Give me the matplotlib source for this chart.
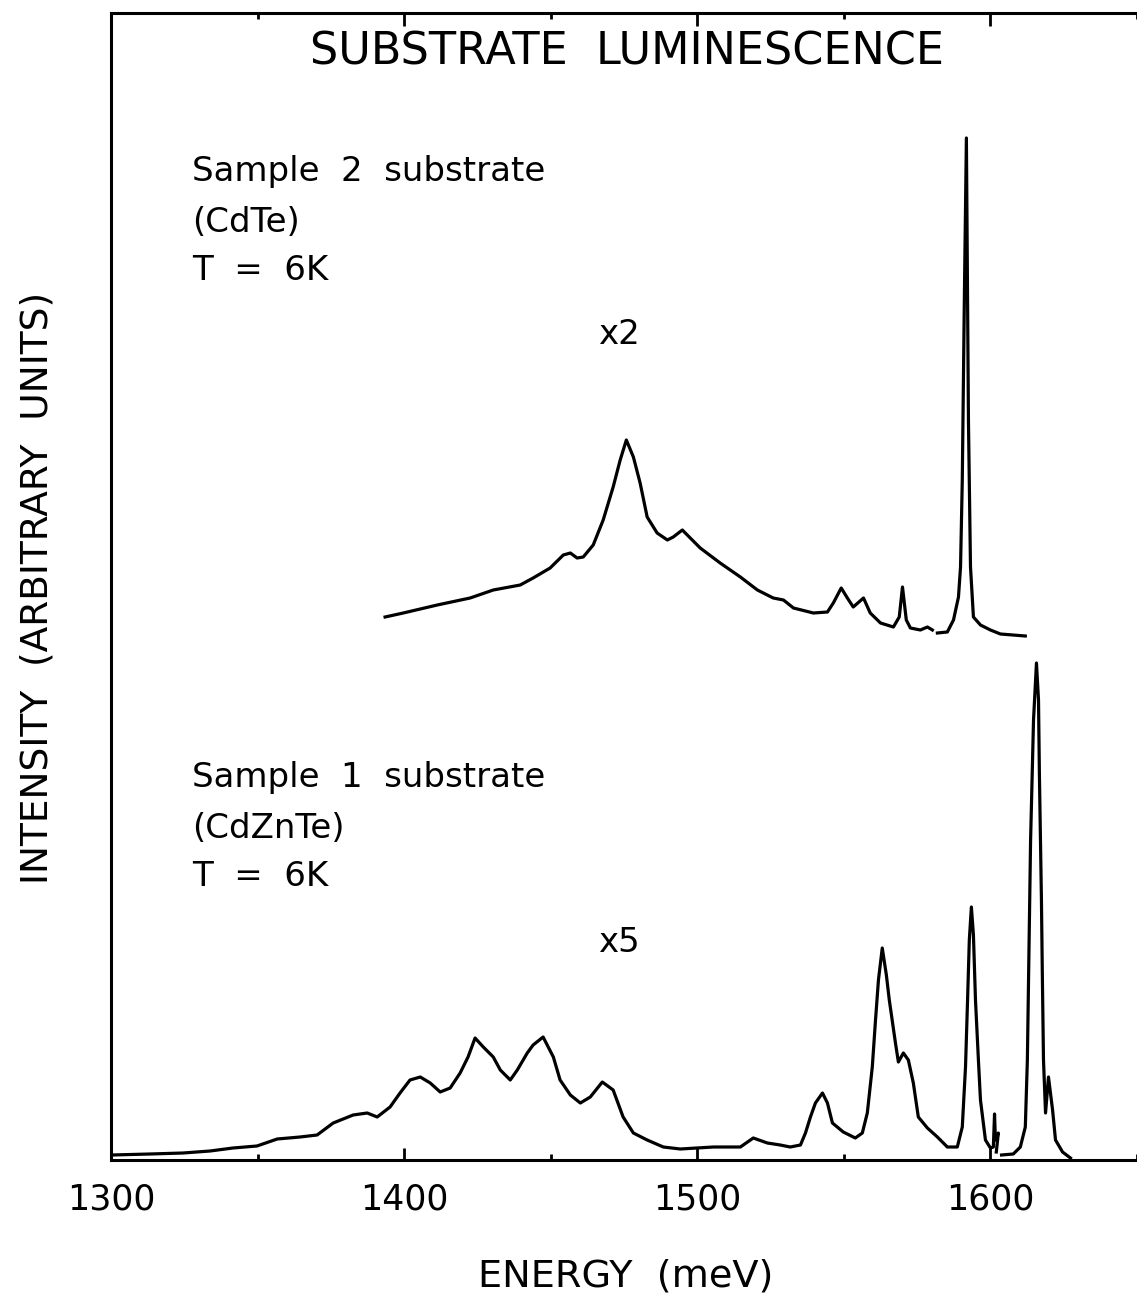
import matplotlib
matplotlib.use("Agg")
import matplotlib.pyplot as plt
from matplotlib.ticker import MultipleLocator

# ---- Data ----
# Sample 2 substrate (CdTe), x2 -- two segments (gap near 1581 meV)
cdte_E1 = [1393.5, 1399.7, 1411.3, 1422.5, 1430.4, 1439.6, 1444.0, 1449.8, 1454.3, 1456.7,
           1459.0, 1461.1, 1464.5, 1467.9, 1471.3, 1473.7, 1475.8, 1478.2, 1480.5, 1482.9,
           1486.3, 1489.8, 1491.8, 1494.9, 1497.6, 1501.0, 1507.8, 1514.7, 1520.5, 1525.9,
           1529.4, 1532.8, 1539.6, 1544.4, 1546.4, 1549.1, 1551.2, 1553.2, 1556.7, 1559.0,
           1562.5, 1566.9, 1568.9, 1570.0, 1571.3, 1572.7, 1576.1, 1578.5, 1580.2]
cdte_I1 = [543, 547, 555, 562, 570, 575, 582, 592, 605, 607,
           602, 603, 615, 640, 673, 700, 720, 703, 677, 643,
           627, 620, 623, 630, 622, 612, 597, 583, 570, 562,
           560, 552, 547, 548, 557, 572, 562, 553, 562, 547,
           537, 533, 543, 573, 540, 532, 530, 533, 530]
cdte_E2 = [1581.9, 1585.3, 1587.4, 1589.1, 1589.8, 1590.4, 1591.1, 1591.8, 1592.2, 1592.5,
           1593.2, 1594.2, 1596.6, 1600.0, 1603.4, 1611.9]
cdte_I2 = [527, 528, 540, 563, 593, 680, 860, 1022, 860, 740,
           593, 543, 535, 530, 526, 524]

# Sample 1 substrate (CdZnTe), x5 -- two segments (gap near 1603 meV)
czt_E1 = [1300.3, 1313.3, 1324.6, 1333.8, 1341.6, 1349.8, 1356.7, 1364.5, 1370.3, 1375.8,
          1382.6, 1387.4, 1390.8, 1395.2, 1398.6, 1402.0, 1405.5, 1408.9, 1412.3, 1415.7,
          1419.1, 1421.8, 1424.2, 1427.0, 1430.4, 1432.8, 1436.2, 1438.6, 1442.0, 1444.0,
          1447.4, 1450.9, 1453.2, 1456.7, 1460.1, 1463.5, 1467.6, 1471.3, 1474.7, 1478.2,
          1482.9, 1488.4, 1494.2, 1505.5, 1514.7, 1519.1, 1523.9, 1528.3, 1531.7, 1535.2,
          1536.9, 1538.6, 1540.3, 1542.7, 1544.4, 1546.1, 1549.8, 1553.9, 1556.3, 1558.0,
          1559.7, 1560.8, 1561.8, 1563.1, 1564.5, 1565.5, 1567.6, 1568.6, 1570.3, 1572.0,
          1573.7, 1575.4, 1578.5, 1581.9, 1585.3, 1588.7, 1590.4, 1591.5, 1592.2, 1592.8,
          1593.5, 1594.2, 1594.9, 1595.9, 1596.6, 1598.3, 1600.0, 1601.0, 1601.4, 1601.7,
          1602.7, 1602.0]
czt_I1 = [5, 6, 7, 9, 12, 14, 21, 23, 25, 37,
          45, 47, 43, 53, 67, 80, 83, 77, 68, 72,
          87, 103, 122, 113, 103, 90, 80, 90, 107, 115,
          123, 103, 80, 65, 57, 63, 78, 70, 43, 27,
          20, 13, 11, 13, 13, 22, 17, 15, 13, 15,
          27, 43, 57, 67, 57, 37, 28, 22, 27, 47,
          93, 140, 180, 212, 185, 160, 117, 98, 107, 100,
          77, 43, 32, 23, 13, 13, 33, 93, 160, 220,
          253, 225, 160, 100, 60, 20, 12, 13, 46, 20,
          27, 8]
czt_E2 = [1603.8, 1607.8, 1610.2, 1611.9, 1612.6, 1613.7, 1614.7, 1615.7, 1616.4, 1616.7,
          1617.4, 1617.7, 1618.1, 1618.8, 1619.8, 1621.2, 1622.2, 1624.6, 1627.3]
czt_I2 = [5, 6, 13, 33, 100, 320, 440, 497, 460, 387,
          260, 187, 100, 47, 83, 50, 20, 8, 2]

x_major = [1300, 1400, 1500, 1600]
x_tick_labels = ["1300", "1400", "1500", "1600"]

W, H = 1137, 1304
fig = plt.figure(figsize=(W / 100, H / 100), dpi=100)
ax = fig.add_axes([111 / W, 1 - 1160 / H, 1 - 111 / W, (1160 - 13) / H])

lw = 2.3
for E, I in [(cdte_E1, cdte_I1), (cdte_E2, cdte_I2), (czt_E1, czt_I1), (czt_E2, czt_I2)]:
    ax.plot(E, I, color="black", lw=lw, solid_joinstyle="round")

ax.set_xlim(1300, 1650)
ax.set_ylim(0, 1147)
ax.set_xticks(x_major)
ax.set_xticklabels(x_tick_labels)
ax.xaxis.set_minor_locator(MultipleLocator(50))
ax.set_yticks([])
ax.tick_params(axis="x", which="major", direction="in", length=9, width=2,
               top=True, labelsize=25, pad=16)
ax.tick_params(axis="x", which="minor", direction="in", length=4, width=2, top=True)
for s in ["left", "bottom", "top"]:
    ax.spines[s].set_linewidth(2.2)
ax.spines["right"].set_visible(False)

def fx(px):
    return px / W

def fy(py):
    return 1 - py / H

fig.text(fx(627), fy(52), "SUBSTRATE  LUMINESCENCE", fontsize=32, ha="center", va="center")

fs = 24.5
fig.text(fx(192), fy(172), "Sample  2  substrate", fontsize=fs, ha="left", va="center")
fig.text(fx(192), fy(222), "(CdTe)", fontsize=fs, ha="left", va="center")
fig.text(fx(192), fy(270), "T  =  6K", fontsize=fs, ha="left", va="center")
fig.text(fx(598), fy(335), "x2", fontsize=fs, ha="left", va="center")

fig.text(fx(192), fy(778), "Sample  1  substrate", fontsize=fs, ha="left", va="center")
fig.text(fx(192), fy(828), "(CdZnTe)", fontsize=fs, ha="left", va="center")
fig.text(fx(192), fy(876), "T  =  6K", fontsize=fs, ha="left", va="center")
fig.text(fx(598), fy(943), "x5", fontsize=fs, ha="left", va="center")

fig.text(fx(38), fy(588), "INTENSITY  (ARBITRARY  UNITS)", fontsize=27, rotation=90,
         ha="center", va="center")
fig.text(fx(626), fy(1277), "ENERGY  (meV)", fontsize=27.5, ha="center", va="center")

fig.savefig("out.png", dpi=100)
